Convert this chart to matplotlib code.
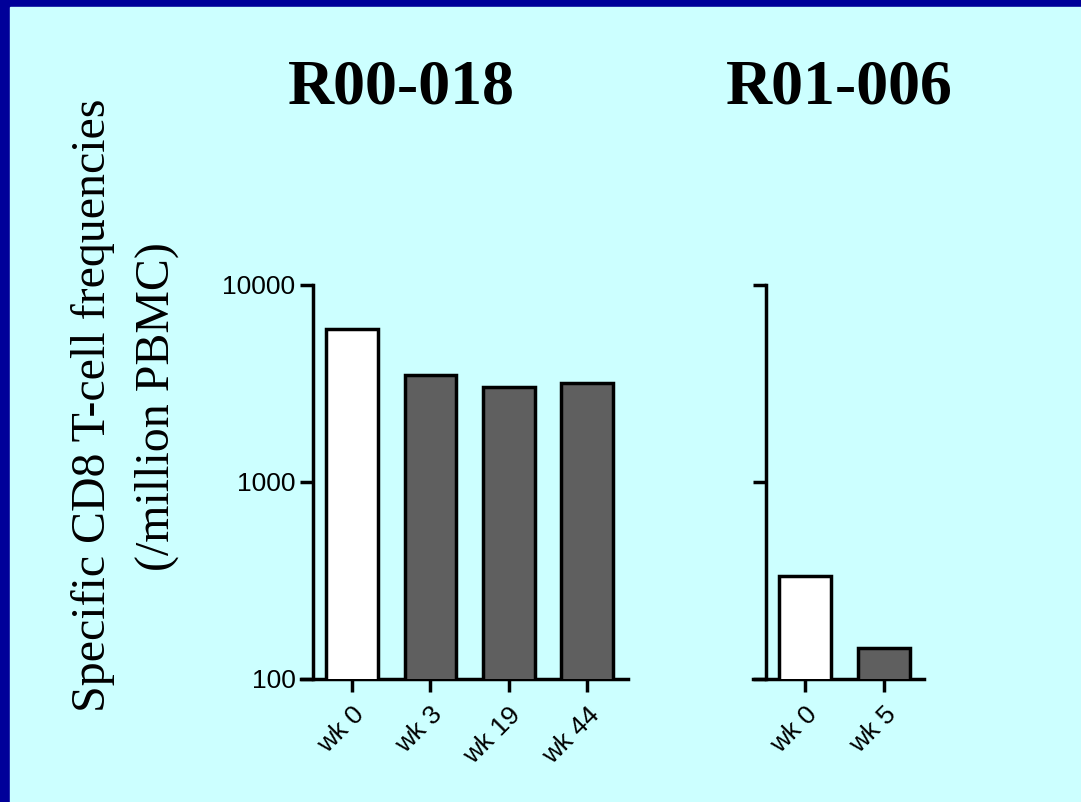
import matplotlib.pyplot as plt
from matplotlib.patches import Rectangle

# data
left_title = "R00-018"
left_labels = ["wk 0", "wk 3", "wk 19", "wk 44"]
left_values = [6000, 3500, 3030, 3180]

right_title = "R01-006"
right_labels = ["wk 0", "wk 5"]
right_values = [333, 144]

yticks = [100, 1000, 10000]
ylabel1 = "Specific CD8 T-cell frequencies"
ylabel2 = "(/million PBMC)"

white = "#ffffff"
grey = "#5f5f5f"
bg = "#ccffff"
border = "#000099"

fig = plt.figure(figsize=(10.81, 8.02), dpi=100, facecolor=border)
fig.patches.append(Rectangle((10 / 1081, 0), 1, (802 - 7) / 802,
                             transform=fig.transFigure, color=bg, zorder=-5))

lw = 2.5


def panel(rect, labels, values, xlim, show_labels):
    ax = fig.add_axes(rect)
    ax.set_facecolor("none")
    x = list(range(len(values)))
    colors = [white] + [grey] * (len(values) - 1)
    ax.bar(x, values, width=0.66, color=colors, edgecolor="black",
           linewidth=lw, bottom=0.1, zorder=3)
    ax.set_yscale("log")
    ax.set_ylim(100, 10000)
    ax.set_xlim(*xlim)
    ax.set_yticks(yticks)
    ax.yaxis.set_minor_locator(plt.NullLocator())
    if show_labels:
        ax.set_yticklabels([str(v) for v in yticks])
    else:
        ax.set_yticklabels([])
    ax.set_xticks(x)
    ax.set_xticklabels(labels, rotation=45, ha="right", va="top",
                       rotation_mode="anchor")
    for s in ["top", "right"]:
        ax.spines[s].set_visible(False)
    ax.spines["left"].set_position(("data", -0.5))
    for s in ["left", "bottom"]:
        ax.spines[s].set_linewidth(lw)
        ax.spines[s].set_capstyle("projecting")
    ax.tick_params(axis="y", length=9.5, width=lw, pad=3,
                   labelsize=19)
    ax.tick_params(axis="x", length=9, width=lw, pad=8,
                   labelsize=19)
    for t in ax.get_xticklabels() + ax.get_yticklabels():
        t.set_fontfamily("Liberation Sans")
    return ax


ax1 = panel([301 / 1081, 0.1534, 327 / 1081, 0.4913], left_labels,
            left_values, (-0.65, 3.52), True)
ax2 = panel([753 / 1081, 0.1534, 171 / 1081, 0.4913], right_labels,
            right_values, (-0.66, 1.51), False)

fig.text(401 / 1081, 1 - 89 / 802, left_title, ha="center", va="center",
         fontsize=46, fontweight="bold", family="Liberation Serif")
fig.text(839 / 1081, 1 - 89 / 802, right_title, ha="center", va="center",
         fontsize=46, fontweight="bold", family="Liberation Serif")

fig.text(93 / 1081, 1 - 405 / 802, ylabel1, rotation=90, ha="center",
         va="center", fontsize=34.5, family="Liberation Serif")
fig.text(157 / 1081, 1 - 407 / 802, ylabel2, rotation=90, ha="center",
         va="center", fontsize=34.5, family="Liberation Serif")

fig.savefig("out.png", dpi=100, facecolor=border)
